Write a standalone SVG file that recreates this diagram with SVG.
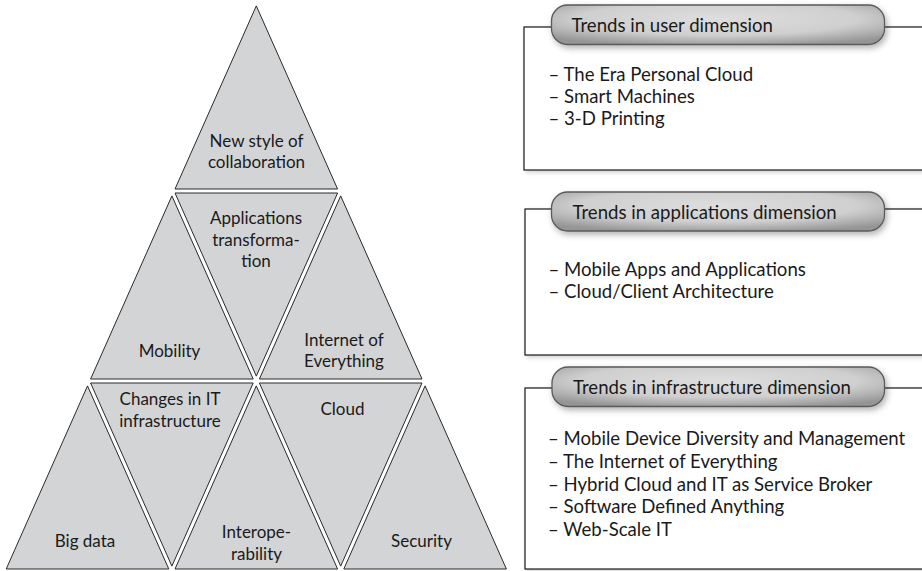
<svg xmlns="http://www.w3.org/2000/svg" width="922" height="571" viewBox="0 0 922 571">
<style>
.tri{fill:#d3d4d6;stroke:#2a2a2a;stroke-width:1}
.lbl{font-family:Lato,"Liberation Sans",sans-serif;font-size:17px;fill:#1a1a1a;text-anchor:middle}
.box{fill:#ffffff;stroke:#1a1a1a;stroke-width:1.2}
.pill{fill:url(#pillGrad);stroke:#5a5a5a;stroke-width:1.3}
.ttl{font-family:Lato,"Liberation Sans",sans-serif;font-size:18.6px;fill:#1a1a1a}
.itm{font-family:Lato,"Liberation Sans",sans-serif;font-size:18.6px;fill:#1a1a1a}
</style>
<defs>
<radialGradient id="pillGrad" cx="50%" cy="35%" r="70%">
<stop offset="0" stop-color="#dedede"/>
<stop offset="0.6" stop-color="#cfcfcf"/>
<stop offset="1" stop-color="#959595"/>
</radialGradient>
<filter id="shadow" x="-5%" y="-30%" width="112%" height="170%">
<feDropShadow dx="2" dy="3" stdDeviation="3" flood-color="#000" flood-opacity="0.3"/>
</filter>
<filter id="bshadow" x="-5%" y="-5%" width="112%" height="115%">
<feDropShadow dx="2" dy="2" stdDeviation="2" flood-color="#000" flood-opacity="0.18"/>
</filter>
</defs>
<rect width="922" height="571" fill="#ffffff"/>
<g id="pyramid">
<g id="t-collaboration"><polygon class="tri" points="256.3,5.9 337.6,189 175,189"/><text class="lbl" x="256.5" y="147">New style of</text><text class="lbl" x="256.5" y="168">collaboration</text></g>
<g id="t-applications"><polygon class="tri" points="175,193 337.6,193 256.3,376.1"/><text class="lbl" x="256" y="224">Applications</text><text class="lbl" x="256" y="245.5">transforma-</text><text class="lbl" x="256" y="267">tion</text></g>
<g id="t-mobility"><polygon class="tri" points="171.9,195.9 253.2,379 90.6,379"/><text class="lbl" x="169.5" y="357">Mobility</text></g>
<g id="t-internet"><polygon class="tri" points="340.7,195.9 422,379 259.4,379"/><text class="lbl" x="344" y="345.5">Internet of</text><text class="lbl" x="344" y="367">Everything</text></g>
<g id="t-changes"><polygon class="tri" points="90.6,383 253.2,383 171.9,566.1"/><text class="lbl" x="170" y="405">Changes in IT</text><text class="lbl" x="170" y="426.5">infrastructure</text></g>
<g id="t-cloud"><polygon class="tri" points="259.4,383 422,383 340.7,566.1"/><text class="lbl" x="342.5" y="415">Cloud</text></g>
<g id="t-bigdata"><polygon class="tri" points="87.5,385.9 168.8,569 6.2,569"/><text class="lbl" x="85" y="546.5">Big data</text></g>
<g id="t-interop"><polygon class="tri" points="256.3,385.9 337.6,569 175,569"/><text class="lbl" x="256.5" y="538">Interope-</text><text class="lbl" x="256.5" y="560">rability</text></g>
<g id="t-security"><polygon class="tri" points="425.1,385.9 506.4,569 343.8,569"/><text class="lbl" x="421.5" y="546.5">Security</text></g>
</g>
<g id="connectors"/>
<g id="box-user">
<rect class="box" x="524" y="27" width="420" height="143" filter="url(#bshadow)"/>
<rect class="pill" x="551.5" y="5" width="333" height="39.5" rx="16" filter="url(#shadow)"/>
<text class="ttl" x="571.5" y="32">Trends in user dimension</text>
<text class="itm" x="548.5" y="81">– The Era Personal Cloud</text>
<text class="itm" x="548.5" y="103">– Smart Machines</text>
<text class="itm" x="548.5" y="125">– 3-D Printing</text>
</g>
<g id="box-applications">
<rect class="box" x="525" y="209" width="420" height="146" filter="url(#bshadow)"/>
<rect class="pill" x="551.5" y="192" width="333" height="39" rx="16" filter="url(#shadow)"/>
<text class="ttl" x="572.5" y="218.5">Trends in applications dimension</text>
<text class="itm" x="548.5" y="276">– Mobile Apps and Applications</text>
<text class="itm" x="548.5" y="298">– Cloud/Client Architecture</text>
</g>
<g id="box-infrastructure">
<rect class="box" x="525" y="388" width="420" height="181" filter="url(#bshadow)"/>
<rect class="pill" x="552" y="367" width="332.5" height="39.5" rx="16" filter="url(#shadow)"/>
<text class="ttl" x="573" y="393.5">Trends in infrastructure dimension</text>
<text class="itm" x="548" y="445">– Mobile Device Diversity and Management</text>
<text class="itm" x="548" y="467.5">– The Internet of Everything</text>
<text class="itm" x="548" y="490.5">– Hybrid Cloud and IT as Service Broker</text>
<text class="itm" x="548" y="513">– Software Defined Anything</text>
<text class="itm" x="548" y="535.5">– Web-Scale IT</text>
</g>
</svg>
